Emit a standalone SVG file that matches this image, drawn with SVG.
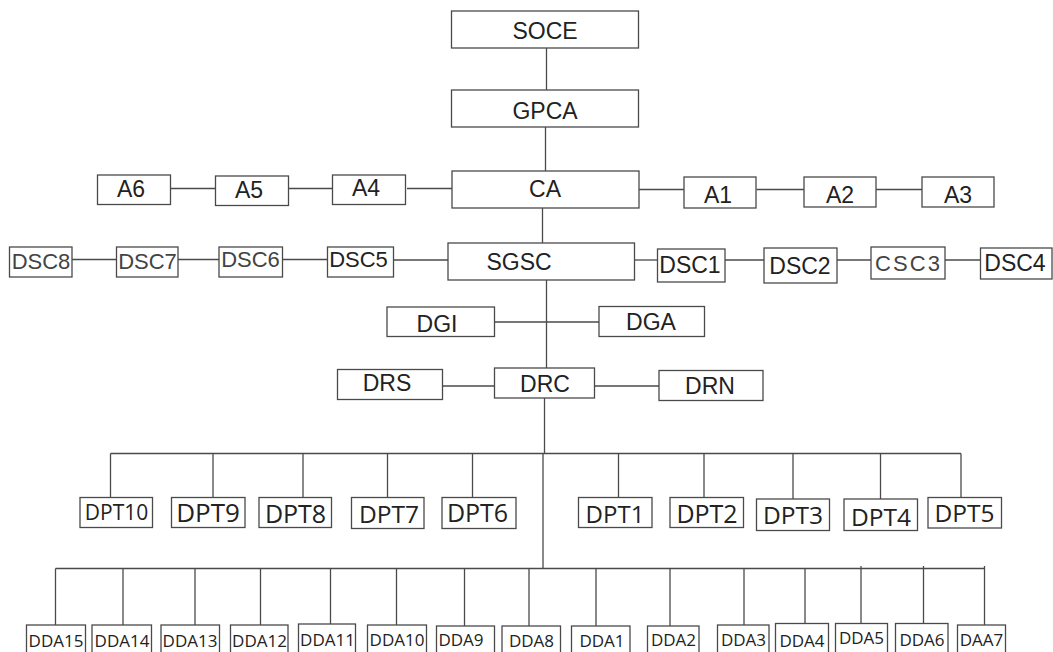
<svg xmlns="http://www.w3.org/2000/svg" width="1053" height="652" viewBox="0 0 1053 652">
<style>
rect{fill:#fff;stroke:#4a4a4a;stroke-width:1.3}
.c line{stroke:#4a4a4a;stroke-width:1.3}
text{fill:#222;text-anchor:middle}
.a{font-family:"Liberation Sans",Arial,sans-serif;font-size:23px}
.s{font-family:"Liberation Sans",Arial,sans-serif;font-size:22px}
.lt{fill:#444}
.m{font-family:"Open Sans","Noto Sans",sans-serif}
.d{font-family:"Open Sans","Noto Sans",sans-serif;font-size:17px}
</style>
<rect x="0" y="0" width="1053" height="652" style="fill:#fff;stroke:none"/>
<g class="c">
<line x1="546.5" y1="48" x2="546.5" y2="90"/>
<line x1="545.5" y1="127" x2="545.5" y2="171"/>
<line x1="170.5" y1="188.5" x2="215.5" y2="188.5"/>
<line x1="287" y1="188.5" x2="332.5" y2="188.5"/>
<line x1="407" y1="188.5" x2="452" y2="188.5"/>
<line x1="639" y1="189.5" x2="684" y2="189.5"/>
<line x1="756.5" y1="189.5" x2="804" y2="189.5"/>
<line x1="876" y1="189.5" x2="922" y2="189.5"/>
<line x1="542.5" y1="208" x2="542.5" y2="243"/>
<line x1="72" y1="259.5" x2="116.5" y2="259.5"/>
<line x1="178" y1="259.5" x2="219" y2="259.5"/>
<line x1="282.5" y1="259.5" x2="327.5" y2="259.5"/>
<line x1="393.5" y1="260" x2="448" y2="260"/>
<line x1="634.5" y1="260" x2="657.5" y2="260"/>
<line x1="725" y1="260" x2="764" y2="260"/>
<line x1="837" y1="260" x2="871" y2="260"/>
<line x1="945" y1="260" x2="980.5" y2="260"/>
<line x1="546.5" y1="280" x2="546.5" y2="368"/>
<line x1="494.5" y1="322" x2="599" y2="322"/>
<line x1="442.5" y1="386" x2="494.5" y2="386"/>
<line x1="594.5" y1="386" x2="659" y2="386"/>
<line x1="544.5" y1="398" x2="544.5" y2="453.5"/>
<line x1="543" y1="453.5" x2="543" y2="568.5"/>
<line x1="110.5" y1="453.5" x2="961" y2="453.5"/>
<line x1="110.5" y1="453.5" x2="110.5" y2="497.5"/>
<line x1="213" y1="453.5" x2="213" y2="497.5"/>
<line x1="303" y1="453.5" x2="303" y2="497.5"/>
<line x1="387.5" y1="453.5" x2="387.5" y2="497.5"/>
<line x1="472.5" y1="453.5" x2="472.5" y2="497.5"/>
<line x1="618.5" y1="453.5" x2="618.5" y2="497.5"/>
<line x1="704" y1="453.5" x2="704" y2="497.5"/>
<line x1="793" y1="453.5" x2="793" y2="499"/>
<line x1="880.5" y1="453.5" x2="880.5" y2="499"/>
<line x1="961" y1="453.5" x2="961" y2="497.5"/>
<line x1="55.5" y1="568.5" x2="985" y2="568.5"/>
<line x1="55.5" y1="568.5" x2="55.5" y2="625"/>
<line x1="123" y1="568.5" x2="123" y2="625"/>
<line x1="195" y1="568.5" x2="195" y2="625"/>
<line x1="260.5" y1="568.5" x2="260.5" y2="625"/>
<line x1="330.5" y1="568.5" x2="330.5" y2="624"/>
<line x1="396.5" y1="568.5" x2="396.5" y2="625"/>
<line x1="464.5" y1="568.5" x2="464.5" y2="626"/>
<line x1="529" y1="568.5" x2="529" y2="626"/>
<line x1="596" y1="568.5" x2="596" y2="626"/>
<line x1="670" y1="568.5" x2="670" y2="626"/>
<line x1="744" y1="568.5" x2="744" y2="625"/>
<line x1="805" y1="568.5" x2="805" y2="623"/>
<line x1="861" y1="566" x2="861" y2="623"/>
<line x1="923.5" y1="566" x2="923.5" y2="623"/>
<line x1="984.5" y1="566" x2="984.5" y2="625"/>
</g>
<g id="SOCE"><rect x="451.5" y="11" width="187" height="37"/><text class="a" x="545" y="39">SOCE</text></g>
<g id="GPCA"><rect x="451.5" y="90" width="187" height="37"/><text class="a" x="545" y="119">GPCA</text></g>
<g id="CA"><rect x="452" y="171" width="187" height="37"/><text class="a" x="545" y="197">CA</text></g>
<g id="A6"><rect x="97.5" y="175" width="73" height="29.5"/><text class="a" x="131" y="197">A6</text></g>
<g id="A5"><rect x="215.5" y="176" width="73" height="29.5"/><text class="a" x="249" y="197.5">A5</text></g>
<g id="A4"><rect x="332.5" y="175" width="73" height="29.5"/><text class="a" x="366" y="196">A4</text></g>
<g id="A1"><rect x="684" y="177" width="72" height="31"/><text class="a" x="718" y="203">A1</text></g>
<g id="A2"><rect x="804" y="177" width="72" height="30"/><text class="a" x="840" y="203">A2</text></g>
<g id="A3"><rect x="922" y="177" width="72" height="30"/><text class="a" x="958" y="203">A3</text></g>
<g id="DSC8"><rect x="9.5" y="247" width="62.5" height="30"/><text class="s lt" x="41" y="268.5" font-size="21">DSC8</text></g>
<g id="DSC7"><rect x="116.5" y="247" width="61.5" height="30"/><text class="s lt" x="147.5" y="269" font-size="21">DSC7</text></g>
<g id="DSC6"><rect x="219" y="247" width="63.5" height="30"/><text class="s lt" x="250.5" y="266.5">DSC6</text></g>
<g id="DSC5"><rect x="327.5" y="247" width="66" height="30"/><text class="s" x="358.5" y="266.5">DSC5</text></g>
<g id="SGSC"><rect x="448" y="243" width="186.5" height="37"/><text class="a" x="519" y="270">SGSC</text></g>
<g id="DSC1"><rect x="657.5" y="249" width="67.5" height="33"/><text class="a" x="690" y="272.5">DSC1</text></g>
<g id="DSC2"><rect x="764" y="248" width="73" height="35"/><text class="a" x="800" y="273.5">DSC2</text></g>
<g id="CSC3"><rect x="871" y="247" width="74" height="32"/><text class="s lt" x="907.5" y="270.5" font-size="20.5" textLength="65" lengthAdjust="spacing">CSC3</text></g>
<g id="DSC4"><rect x="980.5" y="248" width="71.5" height="31"/><text class="a" x="1015" y="271">DSC4</text></g>
<g id="DGI"><rect x="387" y="307" width="107.5" height="29.5"/><text class="a" x="437" y="331.5">DGI</text></g>
<g id="DGA"><rect x="599" y="306.5" width="105.5" height="30"/><text class="a" x="651" y="329.5">DGA</text></g>
<g id="DRS"><rect x="337.5" y="369.5" width="105" height="30"/><text class="a" x="387" y="391">DRS</text></g>
<g id="DRC"><rect x="494.5" y="368" width="100" height="30"/><text class="a" x="545" y="391.5">DRC</text></g>
<g id="DRN"><rect x="659" y="370.5" width="104" height="30"/><text class="a" x="710" y="394">DRN</text></g>
<g id="DPT10"><rect x="80" y="497.5" width="72.5" height="30"/><text class="m" x="116.5" y="519.5" font-size="21">DPT10</text></g>
<g id="DPT9"><rect x="171.5" y="497.5" width="73.5" height="30"/><text class="m" x="208" y="521.5" font-size="26">DPT9</text></g>
<g id="DPT8"><rect x="259" y="497.5" width="72.5" height="30"/><text class="m" x="295.5" y="522.5" font-size="25">DPT8</text></g>
<g id="DPT7"><rect x="351.5" y="497.5" width="72.5" height="31"/><text class="m" x="389" y="523" font-size="24.5">DPT7</text></g>
<g id="DPT6"><rect x="442" y="497.5" width="74" height="31"/><text class="m" x="477.5" y="521.5" font-size="25">DPT6</text></g>
<g id="DPT1"><rect x="578.5" y="497.5" width="73.5" height="30"/><text class="m" x="615" y="523" font-size="24">DPT1</text></g>
<g id="DPT2"><rect x="670" y="497.5" width="73.5" height="30"/><text class="m" x="707" y="523" font-size="25">DPT2</text></g>
<g id="DPT3"><rect x="756.5" y="499" width="73" height="31.5"/><text class="m" x="793" y="524" font-size="24.5">DPT3</text></g>
<g id="DPT4"><rect x="844" y="499" width="73.5" height="31.5"/><text class="m" x="881" y="525.5" font-size="24.5">DPT4</text></g>
<g id="DPT5"><rect x="928" y="497.5" width="73.5" height="30.5"/><text class="m" x="964.5" y="522" font-size="24.5">DPT5</text></g>
<g id="DDA15"><rect x="26.5" y="625" width="59" height="40"/><text class="d" x="56" y="647">DDA15</text></g>
<g id="DDA14"><rect x="92" y="625" width="59.5" height="40"/><text class="d" x="122" y="647">DDA14</text></g>
<g id="DDA13"><rect x="161" y="625" width="58.5" height="40"/><text class="d" x="190" y="647">DDA13</text></g>
<g id="DDA12"><rect x="230.5" y="625" width="57.5" height="40"/><text class="d" x="259.5" y="647">DDA12</text></g>
<g id="DDA11"><rect x="298.5" y="624" width="57" height="40"/><text class="d" x="327.5" y="646">DDA11</text></g>
<g id="DDA10"><rect x="367.5" y="625" width="59" height="40"/><text class="d" x="397" y="645.5">DDA10</text></g>
<g id="DDA9"><rect x="436.5" y="626" width="58" height="40"/><text class="d" x="461" y="646">DDA9</text></g>
<g id="DDA8"><rect x="502" y="626" width="58.5" height="40"/><text class="d" x="531.5" y="647">DDA8</text></g>
<g id="DDA1"><rect x="571.5" y="626" width="58.5" height="40"/><text class="d" x="602" y="647">DDA1</text></g>
<g id="DDA2"><rect x="647.5" y="626" width="51.5" height="40"/><text class="d" x="673.5" y="646">DDA2</text></g>
<g id="DDA3"><rect x="717.5" y="625" width="51.5" height="40"/><text class="d" x="743.5" y="646">DDA3</text></g>
<g id="DDA4"><rect x="775.5" y="623.5" width="53" height="40"/><text class="d" x="802" y="647">DDA4</text></g>
<g id="DDA5"><rect x="835.5" y="623.5" width="52" height="40"/><text class="d" x="861.5" y="643.5">DDA5</text></g>
<g id="DDA6"><rect x="895.5" y="623.5" width="52.5" height="40"/><text class="d" x="922" y="646">DDA6</text></g>
<g id="DAA7"><rect x="957.5" y="625" width="48" height="40"/><text class="d" x="981.5" y="646">DAA7</text></g>
</svg>
